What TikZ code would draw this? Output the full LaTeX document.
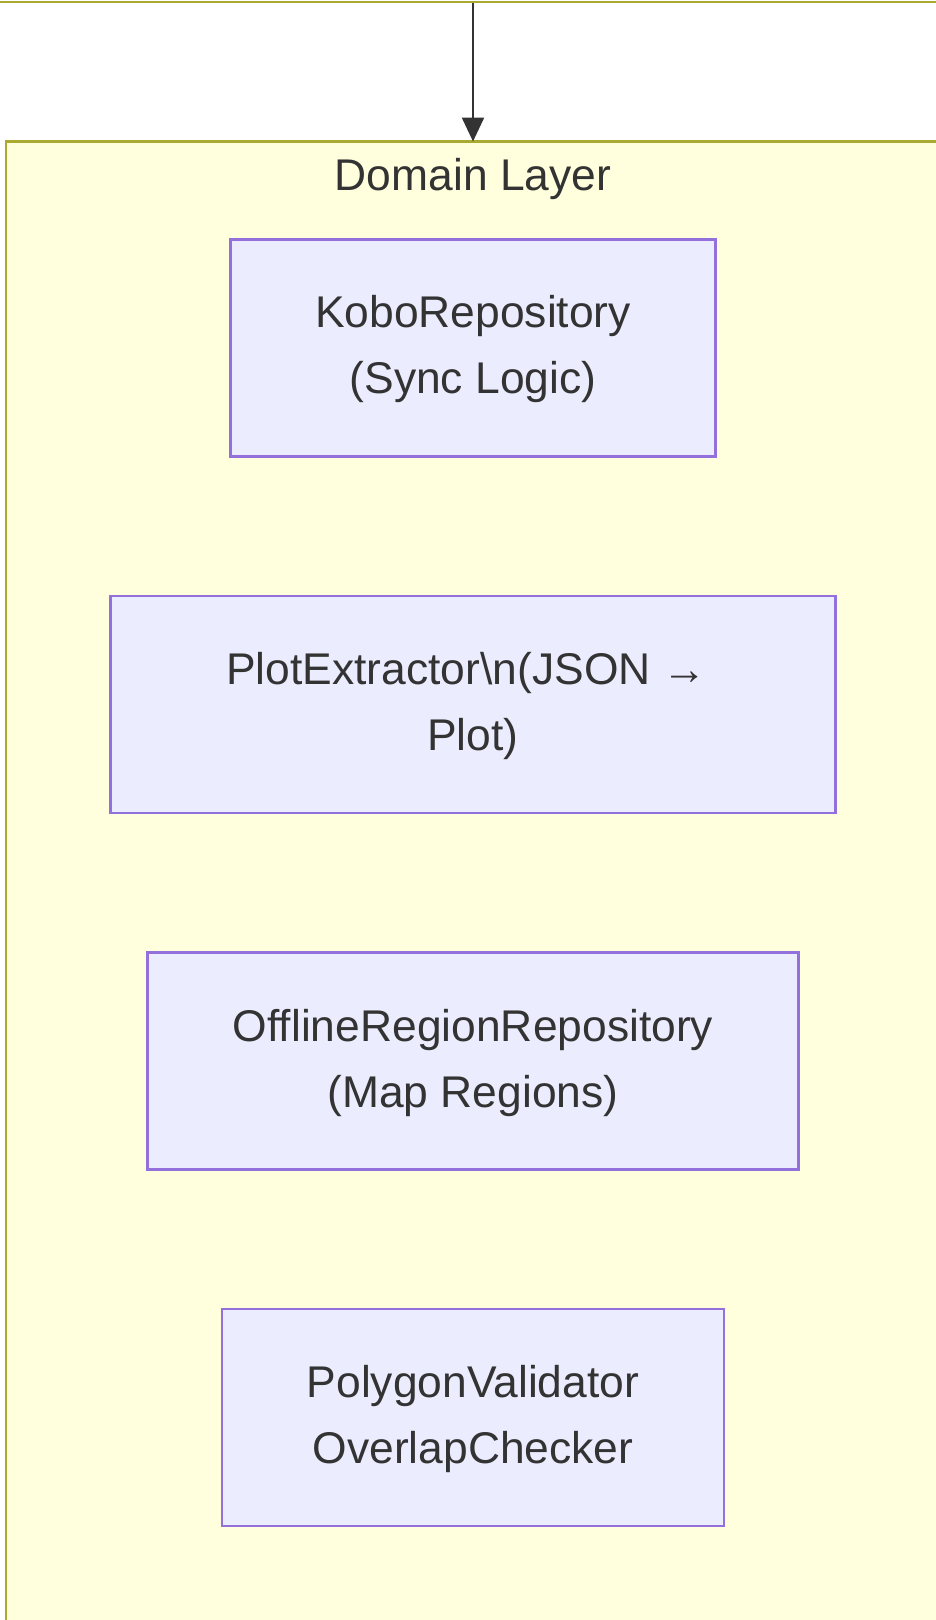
\documentclass[tikz,border=0pt]{standalone}
\usepackage{fontspec}
\setmainfont{Liberation Sans}
\usetikzlibrary{arrows.meta}
\definecolor{clfill}{HTML}{FFFFDE}
\definecolor{clline}{HTML}{AAAA33}
\definecolor{ndfill}{HTML}{ECECFF}
\definecolor{ndline}{HTML}{9370DB}
\definecolor{txt}{HTML}{333333}
\newcommand{\mlines}[1]{\raisebox{-7pt}{\begin{tabular}{@{}c@{}}#1\end{tabular}}}
\tikzset{
  box/.style={draw=ndline, fill=ndfill, line width=2.8pt, text=txt,
    inner sep=0pt, font=\fontsize{44.4}{66}\selectfont, minimum height=217pt},
  cluster/.style={draw=clline, fill=clfill, line width=2.8pt},
  link/.style={draw=txt, line width=2.4pt, -{Triangle[length=24pt,width=22pt]}}
}
\begin{document}
\begin{tikzpicture}[x=1pt,y=-1pt]
\useasboundingbox (0,0) rectangle (936,1620);
\clip (0,0) rectangle (936,1620);
\fill[white] (0,0) rectangle (936,1620);
% upper cluster bottom edge
\draw[clline, line width=2.8pt] (-10,2) -- (950,2);
% domain layer cluster
\draw[cluster] (6,141.5) rectangle (1000,1700);
\node[text=txt, font=\fontsize{44.4}{66}\selectfont] (title) at (473,179) {Domain Layer};
\coordinate (src) at (473,3);
\coordinate (dst) at (473,141.5);
\draw[link] (src) -- (dst);
\node[box, minimum width=485.6pt] (kobo) at (473,347.6) {\mlines{KoboRepository\\(Sync Logic)}};
\node[box, minimum width=725pt] (plot) at (473,704.5) {\mlines{PlotExtractor\textbackslash n(JSON →\ \mbox{}\\Plot)}};
\node[box, minimum width=651pt] (offline) at (473,1061) {\mlines{OfflineRegionRepository\\(Map Regions)}};
\node[box, minimum width=502pt] (poly) at (473,1417.5) {\mlines{PolygonValidator\\OverlapChecker}};
\end{tikzpicture}
\end{document}
